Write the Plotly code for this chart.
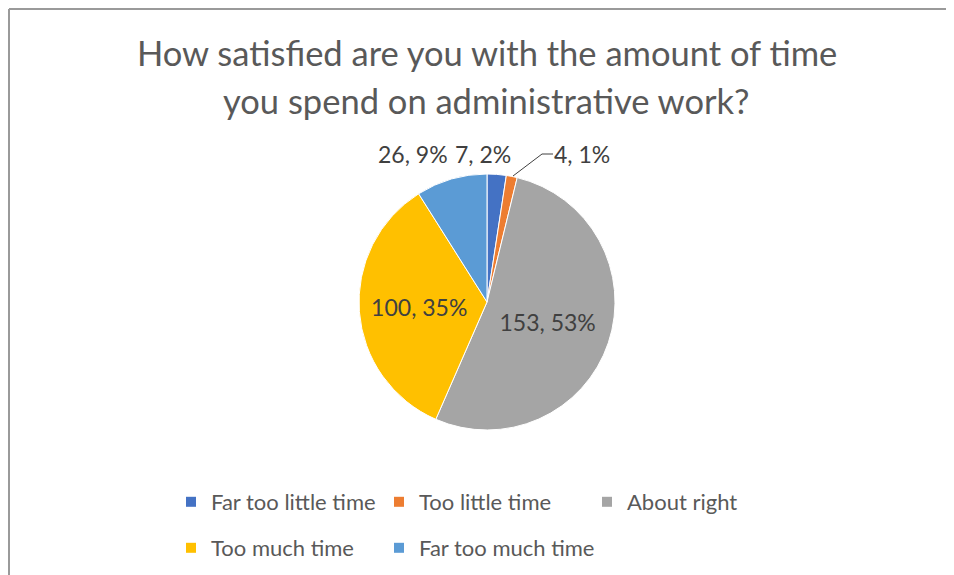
import plotly.graph_objects as go

# the page body has an 8px margin, so the figure is drawn 8px smaller and
# all reference pixel positions are shifted by that offset
OFF = 8
W, H = 954 - OFF, 575 - OFF

categories = ["Far too little time", "Too little time", "About right",
              "Too much time", "Far too much time"]
counts = [7, 4, 153, 100, 26]
colors = ["#4472C4", "#ED7D31", "#A5A5A5", "#FFC000", "#5B9BD5"]
title_lines = ["How satisfied are you with the amount of time",
               "you spend on administrative work?"]


def px_x(x):
    return (x - OFF) / W


def px_y(y):
    return 1 - (y - OFF) / H


def excel_percents(values):
    """Largest-remainder rounding, the way Excel makes pie labels sum to 100."""
    total = sum(values)
    raw = [v * 100 / total for v in values]
    floors = [int(r) for r in raw]
    left = 100 - sum(floors)
    order = sorted(range(len(raw)), key=lambda i: raw[i] - floors[i], reverse=True)
    for i in order[:left]:
        floors[i] += 1
    return floors


pcts = excel_percents(counts)
labels_txt = [f"{c}, {p}%" for c, p in zip(counts, pcts)]
inside = [c / sum(counts) > 0.2 for c in counts]

cx, cy, r = 487, 302, 128
label_font = dict(family="Lato", size=23, color="#404040")

fig = go.Figure()
fig.add_trace(go.Pie(
    labels=categories,
    values=counts,
    text=labels_txt,
    texttemplate="%{text}",
    textposition=["inside" if i else "none" for i in inside],
    insidetextorientation="horizontal",
    insidetextfont=label_font,
    hovertemplate="%{label}: %{value}<extra></extra>",
    marker=dict(colors=colors, line=dict(color="white", width=1)),
    sort=False,
    direction="clockwise",
    rotation=0,
    showlegend=False,
    domain=dict(x=[px_x(cx - r), px_x(cx + r)], y=[px_y(cy + r), px_y(cy - r)]),
))

# legend grid like the Excel one: 3 entries on the first row, 2 on the second
col_x = [191, 399, 607]
row_y = [502, 548]
legend_layout = {}
for i, name in enumerate(categories):
    key = "legend" if i == 0 else f"legend{i + 1}"
    row, col = divmod(i, 3)
    fig.add_trace(go.Scatter(
        x=[None], y=[None], mode="markers", name=name,
        marker=dict(symbol="square", size=10, color=colors[i]),
        legend=key, hoverinfo="skip",
    ))
    legend_layout[key] = dict(
        x=px_x(col_x[col] - 20), y=px_y(row_y[row]),
        xanchor="left", yanchor="middle", orientation="h",
        font=dict(family="Lato", size=22, color="#595959"),
        bgcolor="rgba(0,0,0,0)", itemclick=False, itemdoubleclick=False,
    )

# outside labels for the thin slices
out_pos = {0: (483, 154), 1: (582, 154), 4: (413, 154)}
annotations = []
for i, (x, y) in out_pos.items():
    annotations.append(dict(
        x=px_x(x), y=px_y(y), xref="paper", yref="paper", text=labels_txt[i],
        showarrow=False, xanchor="center", yanchor="middle", font=label_font,
    ))

# two-line title
for line, y in zip(title_lines, [52, 100]):
    annotations.append(dict(
        x=px_x(487), y=px_y(y), xref="paper", yref="paper", text=line,
        showarrow=False, xanchor="center", yanchor="middle",
        font=dict(family="Lato", size=34.5, color="#595959"),
    ))

shapes = [
    # leader line for the "4, 1%" label
    dict(type="path", xref="paper", yref="paper",
         path=f"M {px_x(513)} {px_y(176)} L {px_x(542)} {px_y(154)} L {px_x(553)} {px_y(154)}",
         line=dict(color="#404040", width=1)),
    # chart frame
    dict(type="line", xref="paper", yref="paper", x0=px_x(9), x1=px_x(9),
         y0=px_y(9), y1=0, line=dict(color="#9a9a9a", width=2)),
    dict(type="line", xref="paper", yref="paper", x0=px_x(9), x1=1,
         y0=px_y(9), y1=px_y(9), line=dict(color="#9a9a9a", width=2)),
]

fig.update_layout(
    width=W, height=H,
    margin=dict(l=0, r=0, t=0, b=0, autoexpand=False),
    paper_bgcolor="white",
    plot_bgcolor="white",
    xaxis=dict(visible=False),
    yaxis=dict(visible=False),
    annotations=annotations,
    shapes=shapes,
    **legend_layout,
)

fig.write_html("out.html")
